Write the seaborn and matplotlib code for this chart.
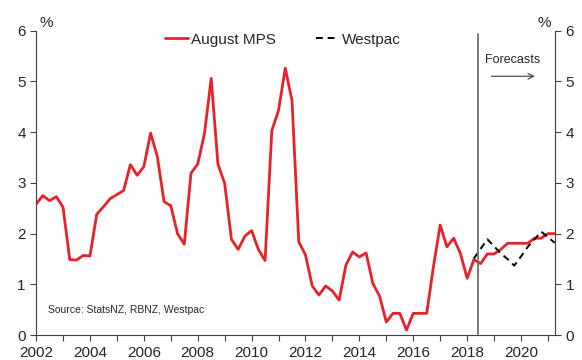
import numpy as np
import pandas as pd
import matplotlib
matplotlib.use("Agg")
import matplotlib.pyplot as plt
from matplotlib.ticker import MultipleLocator, FuncFormatter
import seaborn as sns

# quarterly values, first quarter = 2002 Q1
start_year = 2002
mps = [2.58, 2.75, 2.65, 2.73, 2.52, 1.49, 1.48, 1.57, 1.56, 2.38,
       2.53, 2.69, 2.77, 2.85, 3.36, 3.15, 3.32, 3.98, 3.52, 2.63,
       2.55, 2.00, 1.79, 3.19, 3.37, 3.97, 5.06, 3.37, 2.99, 1.89,
       1.69, 1.95, 2.06, 1.69, 1.47, 4.03, 4.43, 5.26, 4.62, 1.84,
       1.58, 0.97, 0.79, 0.97, 0.87, 0.69, 1.38, 1.64, 1.54, 1.62,
       1.02, 0.77, 0.26, 0.43, 0.43, 0.10, 0.43, 0.43, 0.43, 1.35,
       2.17, 1.74, 1.91, 1.61, 1.12, 1.49, 1.41, 1.60, 1.60, 1.69,
       1.81, 1.81, 1.81, 1.81, 1.91, 1.91, 2.00, 2.00]
westpac_start = 65  # 2018 Q2
westpac = [1.51, 1.70, 1.89, 1.75, 1.61, 1.50, 1.37, 1.55, 1.74, 1.89,
           2.04, 1.93, 1.82]
forecast_line = 2018.42

df_mps = pd.DataFrame({"year": start_year + np.arange(len(mps)) / 4, "value": mps})
df_wp = pd.DataFrame({"year": start_year + (westpac_start + np.arange(len(westpac))) / 4,
                      "value": westpac})

sns.set_style("ticks")
plt.rcParams["font.family"] = ["Liberation Sans", "DejaVu Sans"]

fig, ax = plt.subplots(figsize=(5.82, 3.6), dpi=100)
fig.subplots_adjust(left=0.062, right=0.954, bottom=0.069, top=0.915)

sns.lineplot(data=df_mps, x="year", y="value", ax=ax, color="#e8212b",
             linewidth=2.0, label="August MPS")
sns.lineplot(data=df_wp, x="year", y="value", ax=ax, color="black",
             linewidth=1.4, linestyle=(0, (3.5, 2.5)), label="Westpac")

ax.axvline(forecast_line, ymin=0.005, ymax=0.99, color="#707070", linewidth=1.3)
ax.text(2018.65, 5.43, "Forecasts", fontsize=9, va="center", ha="left")
ax.annotate("", xy=(2020.62, 5.1), xytext=(2018.8, 5.1),
            arrowprops=dict(arrowstyle="->", color="#505050", lw=0.9))
ax.text(2002.45, 0.5, "Source: StatsNZ, RBNZ, Westpac", fontsize=7.5, va="center")

ax.set_xlim(2002, 2021.27)
ax.set_ylim(0, 6)
ax.set_xlabel("")
ax.set_ylabel("")
ax.xaxis.set_major_locator(MultipleLocator(1))
ax.xaxis.set_major_formatter(FuncFormatter(lambda v, p: f"{int(round(v))}" if int(round(v)) % 2 == 0 else ""))
ax.yaxis.set_major_locator(MultipleLocator(1))
ax.tick_params(axis="both", labelsize=11, direction="out", length=4, color="#404040")
ax.tick_params(axis="y", right=True, labelright=True)
for side in ["left", "bottom", "right"]:
    ax.spines[side].set_visible(True)
    ax.spines[side].set_color("#404040")
ax.spines["top"].set_visible(False)

fig.text(0.079, 0.936, "%", fontsize=11, ha="center", va="center")
fig.text(0.935, 0.936, "%", fontsize=11, ha="center", va="center")

ax.legend(loc="center", bbox_to_anchor=(0.475, 0.97), ncol=2, frameon=False,
          fontsize=11, handlelength=1.5, handletextpad=0.2, columnspacing=2.6)

plt.savefig("out.png", dpi=100)
